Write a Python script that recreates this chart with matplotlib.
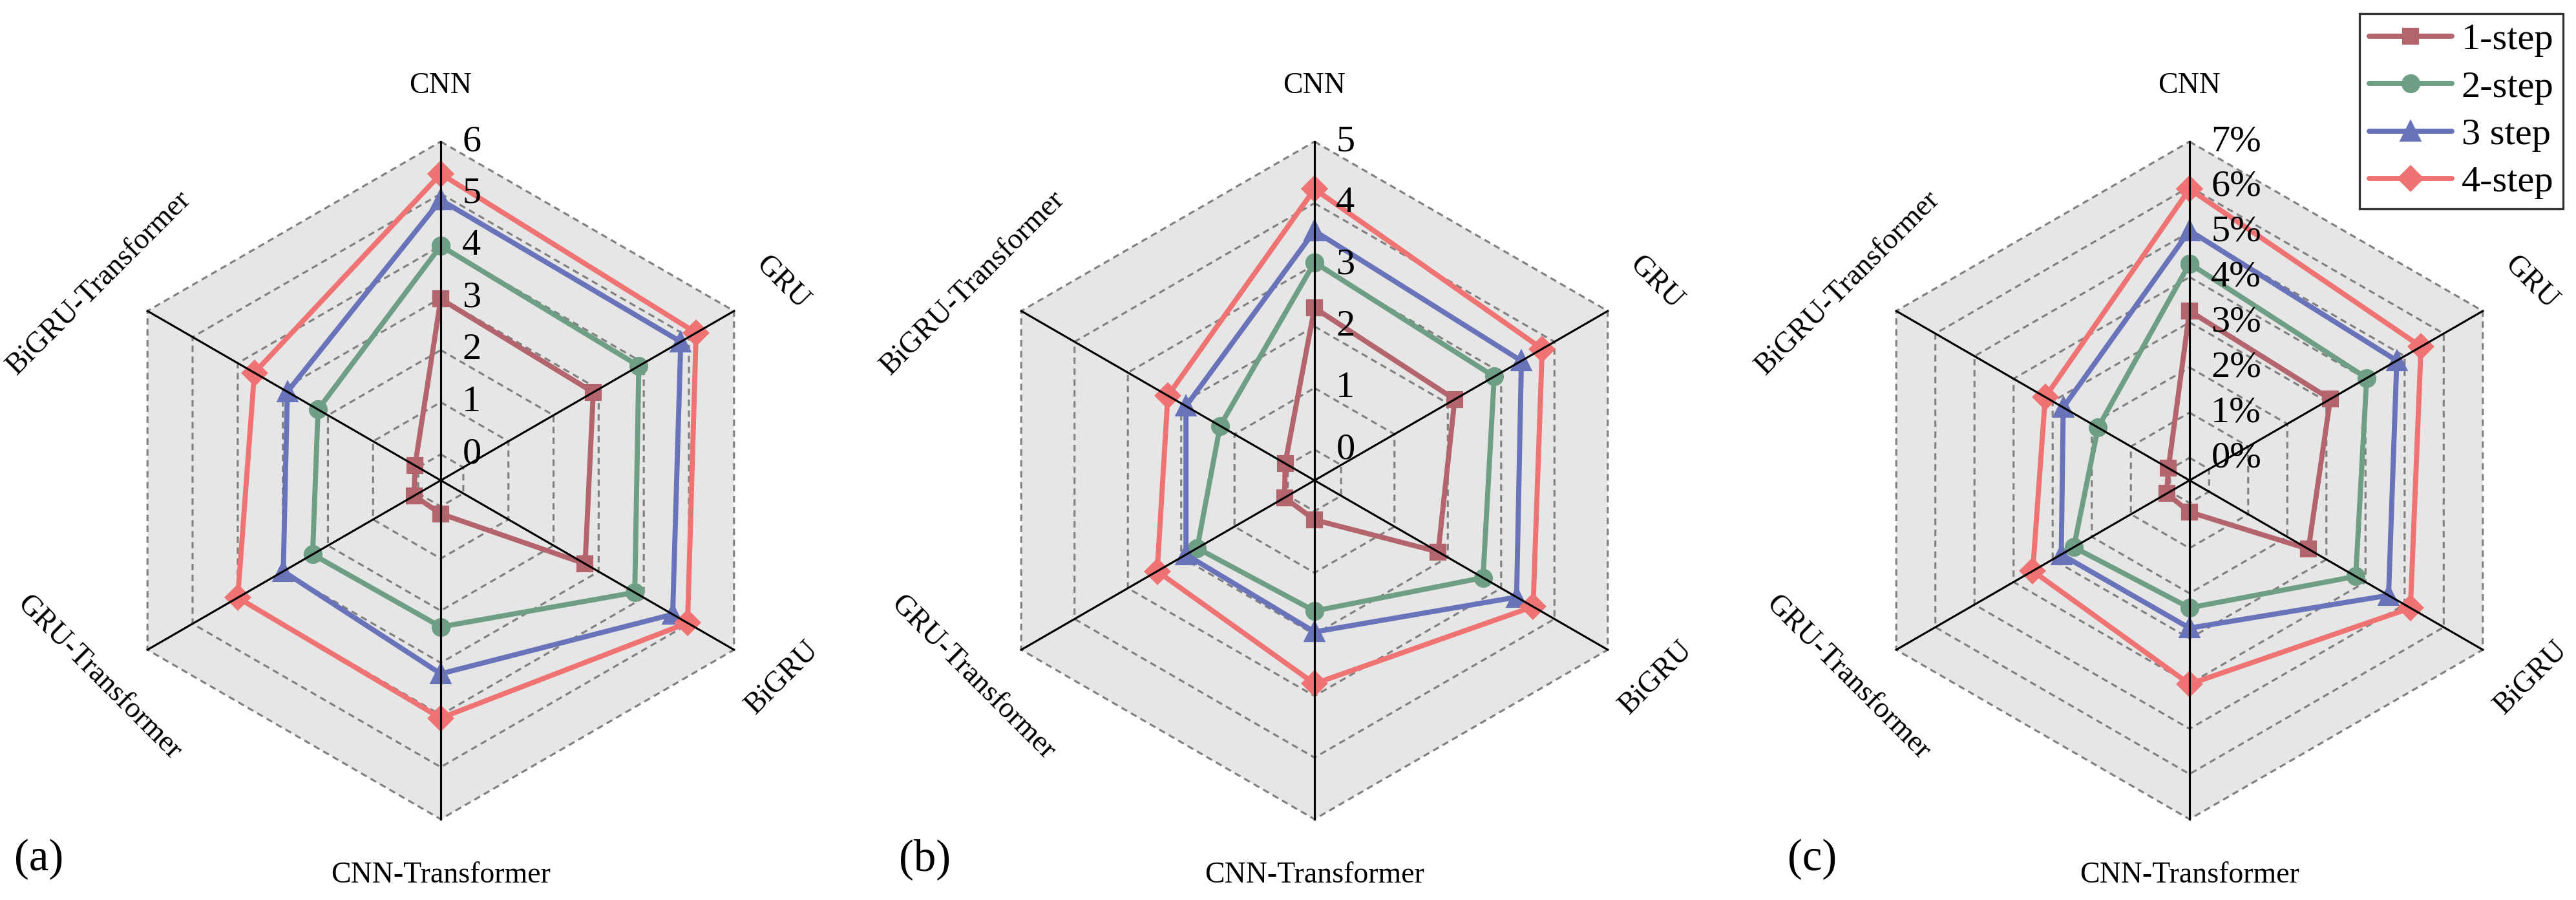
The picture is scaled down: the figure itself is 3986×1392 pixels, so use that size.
import numpy as np
import matplotlib
matplotlib.use("Agg")
import matplotlib.pyplot as plt
from matplotlib.lines import Line2D

plt.rcParams['font.family'] = ['Liberation Serif', 'DejaVu Serif']

categories = ['CNN', 'GRU', 'BiGRU', 'CNN-Transformer', 'GRU-Transformer', 'BiGRU-Transformer']
series_names = ['1-step', '2-step', '3 step', '4-step']

# panel (a)
a_step1 = [2.98, 2.88, 2.70, 0.14, 0.09, 0.07]
a_step2 = [4.00, 3.89, 3.80, 2.31, 2.34, 2.22]
a_step3 = [4.88, 4.82, 4.64, 3.21, 2.99, 2.90]
a_step4 = [5.38, 5.16, 4.97, 4.06, 4.00, 3.63]
a_ticks = [0, 1, 2, 3, 4, 5, 6]
a_ticklabels = ['0', '1', '2', '3', '4', '5', '6']

# panel (b)
b_step1 = [2.30, 2.13, 1.82, 0.14, 0.06, 0.05]
b_step2 = [3.04, 2.87, 2.66, 1.62, 1.70, 1.27]
b_step3 = [3.55, 3.38, 3.29, 1.96, 1.91, 1.91]
b_step4 = [4.23, 3.77, 3.60, 2.80, 2.45, 2.25]
b_ticks = [0, 1, 2, 3, 4, 5]
b_ticklabels = ['0', '1', '2', '3', '4', '5']

# panel (c), percent
c_step1 = [3.25, 3.10, 2.54, 0.20, 0.085, 0.04]
c_step2 = [4.30, 4.03, 3.75, 2.32, 2.46, 1.84]
c_step3 = [5.03, 4.80, 4.59, 2.77, 2.78, 2.73]
c_step4 = [5.95, 5.42, 5.15, 4.01, 3.51, 3.19]
c_ticks = [0, 1, 2, 3, 4, 5, 6, 7]
c_ticklabels = ['0%', '1%', '2%', '3%', '4%', '5%', '6%', '7%']

colors = ['#b4646c', '#6e9f84', '#6973b9', '#f07373']
markers = ['s', 'o', '^', 'D']
msizes = [5.5, 6.0, 6.5, 6.0]
label_rot = [0, -45, 45, 0, -45, 45]

W, H, DPI = 3986, 1392, 300
fig = plt.figure(figsize=(W / DPI, H / DPI), dpi=DPI)

R = 524
centers = [(682, 743), (2034, 743), (3388, 743)]
panels = [
    ([a_step1, a_step2, a_step3, a_step4], a_ticks, a_ticklabels, '(a)', 22),
    ([b_step1, b_step2, b_step3, b_step4], b_ticks, b_ticklabels, '(b)', 1391),
    ([c_step1, c_step2, c_step3, c_step4], c_ticks, c_ticklabels, '(c)', 2766),
]

theta = np.arange(len(categories)) * 2 * np.pi / len(categories)
theta_closed = np.append(theta, theta[0])

for (cx, cy), (data, ticks, ticklabels, tag, tag_x) in zip(centers, panels):
    ax = fig.add_axes([(cx - R) / W, (H - cy - R) / H, 2 * R / W, 2 * R / H],
                      projection='polar')
    ax.set_theta_offset(np.pi / 2)
    ax.set_theta_direction(-1)
    rmin, rmax = -0.5, ticks[-1]
    ax.set_ylim(rmin, rmax)
    ax.grid(False)
    ax.set_xticks([])
    ax.set_yticks([])
    ax.spines['polar'].set_visible(False)
    ax.patch.set_visible(False)

    # hexagon background and dashed rings
    ax.fill(theta_closed, [rmax] * 7, color='#e6e6e6', zorder=0, lw=0)
    for t in ticks:
        ax.plot(theta_closed, [t] * 7, color='#808080', lw=0.75,
                linestyle=(0, (3.2, 2.2)), zorder=1, clip_on=False)

    for vals, col, mk, ms, name in zip(data, colors, markers, msizes, series_names):
        ax.plot(theta_closed, vals + vals[:1], color=col, lw=1.9, marker=mk,
                markersize=ms, label=name, zorder=3, clip_on=False)

    # spokes on top
    for th in theta:
        ax.plot([th, th], [rmin, rmax], color='black', lw=0.75, zorder=4, clip_on=False)

    # radial tick labels
    for t, tl in zip(ticks, ticklabels):
        ax.annotate(tl, xy=(0, t), xytext=(8, 0), textcoords='offset points',
                    ha='left', va='center', fontsize=14, zorder=5)

    # category labels
    r_lab = rmin + 1.165 * (rmax - rmin)
    for th, cat, rot in zip(theta, categories, label_rot):
        ax.text(th, r_lab, cat, ha='center', va='center', rotation=rot,
                rotation_mode='anchor', fontsize=11)

    fig.text(tag_x / W, 1 - 1329 / H, tag, ha='left', va='center', fontsize=16.5)

handles = [Line2D([0], [0], color=c, lw=1.9, marker=m, markersize=s,
                  solid_capstyle='round')
           for c, m, s in zip(colors, markers, msizes)]
leg = fig.legend(handles, series_names, loc='upper right',
                 bbox_to_anchor=(3966 / W, 1 - 21 / H), bbox_transform=fig.transFigure,
                 borderaxespad=0, fontsize=14, frameon=True, fancybox=False,
                 handlelength=2.2, handletextpad=0.25, labelspacing=0.35,
                 borderpad=0.25)
leg.get_frame().set_edgecolor('black')
leg.get_frame().set_linewidth(0.8)

fig.savefig('out.png', dpi=DPI)
